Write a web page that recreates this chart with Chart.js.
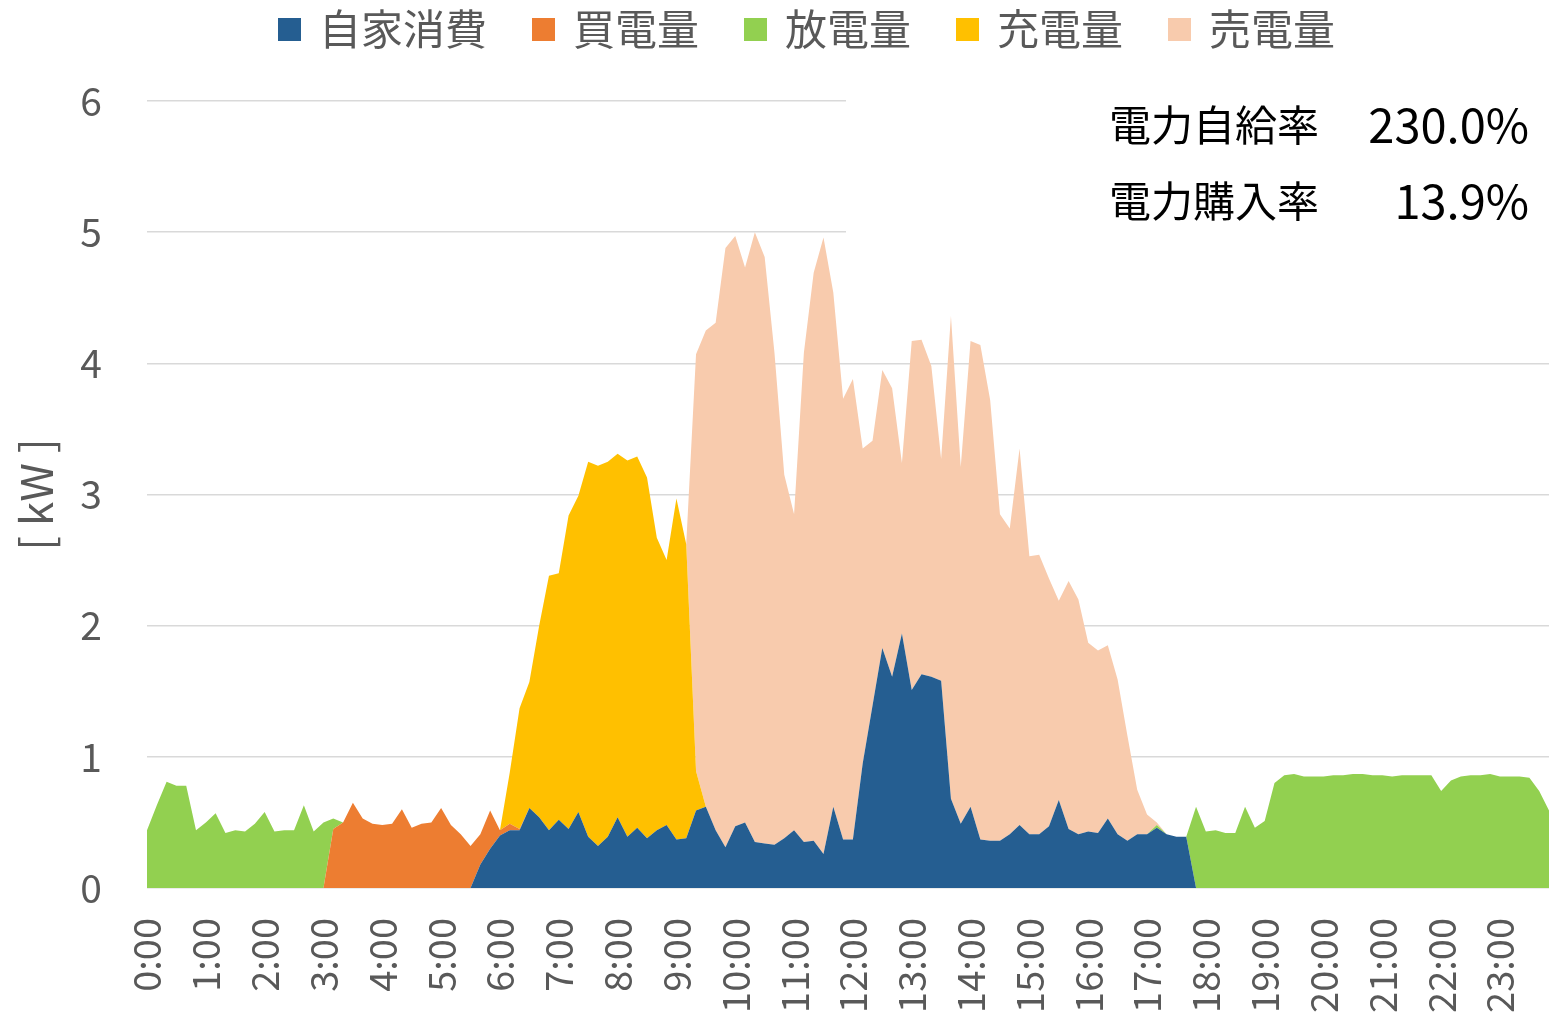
<!DOCTYPE html>
<html>
<head>
<meta charset="utf-8">
<script src="https://cdn.jsdelivr.net/npm/chart.js@4.4.1/dist/chart.umd.min.js"></script>
<style>
    body { margin: 0; background: #fff; }
</style>
</head>
<body>
<canvas id="myChart" width="1551" height="1013"></canvas>
<script>
// 10-minute slots, 0:00 .. 23:50
const jikan = [];
for (let h = 0; h < 24; h++) {
    for (let m = 0; m < 60; m += 10) {
        jikan.push(h + ":" + (m < 10 ? "0" + m : m));
    }
}

// one row = 2 hours (12 slots)
const jikaShohi = [
    0, 0, 0, 0, 0, 0, 0, 0, 0, 0, 0, 0,
    0, 0, 0, 0, 0, 0, 0, 0, 0, 0, 0, 0,
    0, 0, 0, 0, 0, 0, 0, 0, 0, 0, 0.18, 0.30,
    0.40, 0.44, 0.44, 0.61, 0.54, 0.44, 0.52, 0.45, 0.58, 0.39, 0.32, 0.39,
    0.54, 0.39, 0.46, 0.38, 0.44, 0.48, 0.37, 0.38, 0.59, 0.62, 0.44, 0.31,
    0.47, 0.50, 0.35, 0.34, 0.33, 0.38, 0.44, 0.35, 0.36, 0.26, 0.62, 0.37,
    0.37, 0.95, 1.39, 1.83, 1.61, 1.94, 1.51, 1.63, 1.61, 1.58, 0.68, 0.49,
    0.62, 0.37, 0.36, 0.36, 0.41, 0.48, 0.41, 0.41, 0.47, 0.67, 0.45, 0.41,
    0.43, 0.42, 0.53, 0.41, 0.36, 0.41, 0.41, 0.46, 0.41, 0.39, 0.39, 0,
    0, 0, 0, 0, 0, 0, 0, 0, 0, 0, 0, 0,
    0, 0, 0, 0, 0, 0, 0, 0, 0, 0, 0, 0,
    0, 0, 0, 0, 0, 0, 0, 0, 0, 0, 0, 0
];

const kaiden = [
    0, 0, 0, 0, 0, 0, 0, 0, 0, 0, 0, 0,
    0, 0, 0, 0, 0, 0, 0, 0.45, 0.50, 0.65, 0.53, 0.49,
    0.48, 0.49, 0.60, 0.46, 0.49, 0.50, 0.61, 0.48, 0.41, 0.32, 0.23, 0.29,
    0.04, 0.05, 0.01, 0, 0, 0, 0, 0, 0, 0, 0, 0,
    0, 0, 0, 0, 0, 0, 0, 0, 0, 0, 0, 0,
    0, 0, 0, 0, 0, 0, 0, 0, 0, 0, 0, 0,
    0, 0, 0, 0, 0, 0, 0, 0, 0, 0, 0, 0,
    0, 0, 0, 0, 0, 0, 0, 0, 0, 0, 0, 0,
    0, 0, 0, 0, 0, 0, 0, 0, 0, 0, 0, 0,
    0, 0, 0, 0, 0, 0, 0, 0, 0, 0, 0, 0,
    0, 0, 0, 0, 0, 0, 0, 0, 0, 0, 0, 0,
    0, 0, 0, 0, 0, 0, 0, 0, 0, 0, 0, 0
];

const houden = [
    0.44, 0.63, 0.81, 0.78, 0.78, 0.44, 0.50, 0.57, 0.42, 0.44, 0.43, 0.49,
    0.58, 0.43, 0.44, 0.44, 0.63, 0.43, 0.50, 0.08, 0, 0, 0, 0,
    0, 0, 0, 0, 0, 0, 0, 0, 0, 0, 0, 0,
    0, 0, 0, 0, 0, 0, 0, 0, 0, 0, 0, 0,
    0, 0, 0, 0, 0, 0, 0, 0, 0, 0, 0, 0,
    0, 0, 0, 0, 0, 0, 0, 0, 0, 0, 0, 0,
    0, 0, 0, 0, 0, 0, 0, 0, 0, 0, 0, 0,
    0, 0, 0, 0, 0, 0, 0, 0, 0, 0, 0, 0,
    0, 0, 0, 0, 0, 0, 0, 0.02, 0, 0, 0, 0.62,
    0.43, 0.44, 0.42, 0.42, 0.62, 0.46, 0.51, 0.80, 0.86, 0.87, 0.85, 0.85,
    0.85, 0.86, 0.86, 0.87, 0.87, 0.86, 0.86, 0.85, 0.86, 0.86, 0.86, 0.86,
    0.74, 0.82, 0.85, 0.86, 0.86, 0.87, 0.85, 0.85, 0.85, 0.84, 0.74, 0.59
];

const juden = [
    0, 0, 0, 0, 0, 0, 0, 0, 0, 0, 0, 0,
    0, 0, 0, 0, 0, 0, 0, 0, 0, 0, 0, 0,
    0, 0, 0, 0, 0, 0, 0, 0, 0, 0, 0, 0,
    0, 0.39, 0.92, 0.96, 1.46, 1.94, 1.88, 2.39, 2.41, 2.86, 2.90, 2.86,
    2.77, 2.87, 2.83, 2.75, 2.23, 2.02, 2.60, 2.24, 0.30, 0, 0, 0,
    0, 0, 0, 0, 0, 0, 0, 0, 0, 0, 0, 0,
    0, 0, 0, 0, 0, 0, 0, 0, 0, 0, 0, 0,
    0, 0, 0, 0, 0, 0, 0, 0, 0, 0, 0, 0,
    0, 0, 0, 0, 0, 0, 0, 0, 0, 0, 0, 0,
    0, 0, 0, 0, 0, 0, 0, 0, 0, 0, 0, 0,
    0, 0, 0, 0, 0, 0, 0, 0, 0, 0, 0, 0,
    0, 0, 0, 0, 0, 0, 0, 0, 0, 0, 0, 0
];

const baiden = [
    0, 0, 0, 0, 0, 0, 0, 0, 0, 0, 0, 0,
    0, 0, 0, 0, 0, 0, 0, 0, 0, 0, 0, 0,
    0, 0, 0, 0, 0, 0, 0, 0, 0, 0, 0, 0,
    0, 0, 0, 0, 0, 0, 0, 0, 0, 0, 0, 0,
    0, 0, 0, 0, 0, 0, 0, 0, 3.18, 3.63, 3.87, 4.57,
    4.50, 4.23, 4.65, 4.47, 3.75, 2.77, 2.41, 3.73, 4.33, 4.70, 3.92, 3.36,
    3.51, 2.40, 2.02, 2.12, 2.20, 1.30, 2.66, 2.55, 2.37, 1.69, 3.68, 2.72,
    3.55, 3.77, 3.36, 2.49, 2.33, 2.87, 2.12, 2.13, 1.89, 1.52, 1.89, 1.79,
    1.44, 1.39, 1.32, 1.18, 0.80, 0.34, 0.15, 0.02, 0, 0, 0, 0,
    0, 0, 0, 0, 0, 0, 0, 0, 0, 0, 0, 0,
    0, 0, 0, 0, 0, 0, 0, 0, 0, 0, 0, 0,
    0, 0, 0, 0, 0, 0, 0, 0, 0, 0, 0, 0
];

const stat_nazwy = ["電力自給率", "電力購入率"];
const stat_wartosci = ["230.0%", "13.9%"];

const FONT = "'Noto Sans CJK JP', 'Noto Sans', sans-serif";
const SZARY = "#595959";

Chart.defaults.font.family = FONT;

// legend drawn by hand so the item spacing matches the original
const legenda = {
    id: 'legenda',
    afterDraw(chart) {
        const c = chart.ctx;
        c.save();
        c.font = "42px " + FONT;
        c.textBaseline = "middle";
        c.textAlign = "left";
        let x = 278;
        const y = 29;
        chart.data.datasets.forEach(function (ds) {
            c.fillStyle = ds.backgroundColor;
            c.fillRect(x, y - 11, 23, 23);
            c.fillStyle = SZARY;
            c.fillText(ds.label, x + 41, y);
            x += 41 + c.measureText(ds.label).width + 45;
        });
        c.restore();
    }
};

// white box with the two rates, covers the upper grid lines on the right
const ramka = {
    id: 'ramka',
    beforeDatasetsDraw(chart) {
        const c = chart.ctx;
        c.save();
        c.fillStyle = "#ffffff";
        c.fillRect(846, 86, 705, 160);
        c.restore();
    },
    afterDraw(chart) {
        const c = chart.ctx;
        c.save();
        c.fillStyle = "#000000";
        c.textBaseline = "middle";
        for (let i = 0; i < stat_nazwy.length; i++) {
            const y = 125 + i * 76;
            c.font = "42px " + FONT;
            c.textAlign = "left";
            c.fillText(stat_nazwy[i], 1109, y);
            c.font = "47px " + FONT;
            c.textAlign = "right";
            c.fillText(stat_wartosci[i], 1529, y);
        }
        c.restore();
    }
};

const CHART = document.getElementById("myChart");
let wykres = new Chart(CHART, {
    type: 'line',
    data: {
        labels: jikan,
        datasets: [
            { label: '自家消費', data: jikaShohi, backgroundColor: '#255E91', fill: 'origin' },
            { label: '買電量', data: kaiden, backgroundColor: '#ED7D31', fill: '-1' },
            { label: '放電量', data: houden, backgroundColor: '#92D050', fill: '-1' },
            { label: '充電量', data: juden, backgroundColor: '#FFC000', fill: '-1' },
            { label: '売電量', data: baiden, backgroundColor: '#F8CBAD', fill: '-1' }
        ]
    },
    options: {
        responsive: false,
        animation: false,
        elements: {
            point: { radius: 0 },
            line: { borderWidth: 0, tension: 0 }
        },
        layout: {
            padding: { top: 101, right: 2, bottom: 0, left: 0 }
        },
        plugins: {
            legend: { display: false },
            tooltip: { enabled: false }
        },
        scales: {
            x: {
                grid: { display: false, drawTicks: false },
                border: { display: false },
                ticks: {
                    autoSkip: false,
                    minRotation: 90,
                    maxRotation: 90,
                    padding: 30,
                    color: SZARY,
                    font: { size: 38 },
                    callback: function (val, index) {
                        return index % 6 === 0 ? this.getLabelForValue(val) : '';
                    }
                },
                afterFit: function (scale) {
                    scale.height = 125;
                    scale.paddingLeft = 0;
                    scale.paddingRight = 0;
                }
            },
            y: {
                stacked: true,
                min: 0,
                max: 6,
                grid: { color: '#D9D9D9', lineWidth: 1.5, drawTicks: false },
                border: { display: false },
                ticks: {
                    stepSize: 1,
                    padding: 45,
                    color: SZARY,
                    font: { size: 39 }
                },
                title: {
                    display: true,
                    text: '[ kW ]',
                    color: SZARY,
                    font: { size: 44 },
                    padding: { top: 10, bottom: 0 }
                },
                afterFit: function (scale) {
                    scale.width = 147;
                    scale.paddingTop = 0;
                    scale.paddingBottom = 0;
                }
            }
        }
    },
    plugins: [ramka, legenda]
});
</script>
</body>
</html>
